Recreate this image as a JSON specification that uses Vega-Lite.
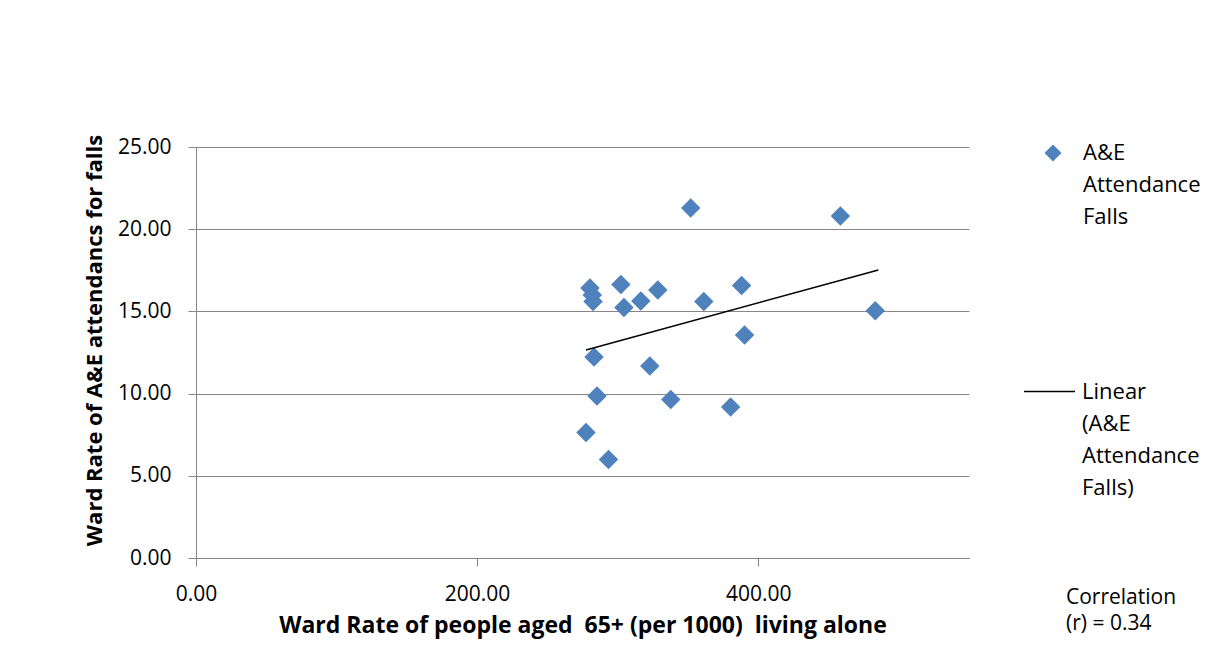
{
  "$schema": "https://vega.github.io/schema/vega-lite/v6.json",
  "width": 773,
  "height": 411,
  "autosize": {"type": "none"},
  "padding": {"left": 196, "top": 147, "right": 239, "bottom": 113},
  "background": "white",
  "config": {
    "view": {"stroke": null},
    "font": "Open Sans",
    "style": {"guide-label": {"lineHeight": 32}}
  },
  "title": {
    "text": ["Correlation", "(r) = 0.34"],
    "orient": "bottom",
    "anchor": "start",
    "frame": "group",
    "align": "left",
    "font": "Open Sans",
    "fontSize": 21,
    "fontWeight": "normal",
    "color": "black",
    "lineHeight": 26,
    "dx": 870,
    "dy": -54
  },
  "datasets": {
    "points": [
      {"living_alone": 352.0, "falls": 21.29, "series": "A&E Attendance Falls"},
      {"living_alone": 458.5, "falls": 20.80, "series": "A&E Attendance Falls"},
      {"living_alone": 280.3, "falls": 16.42, "series": "A&E Attendance Falls"},
      {"living_alone": 282.0, "falls": 16.00, "series": "A&E Attendance Falls"},
      {"living_alone": 282.5, "falls": 15.60, "series": "A&E Attendance Falls"},
      {"living_alone": 302.3, "falls": 16.64, "series": "A&E Attendance Falls"},
      {"living_alone": 304.5, "falls": 15.24, "series": "A&E Attendance Falls"},
      {"living_alone": 316.5, "falls": 15.63, "series": "A&E Attendance Falls"},
      {"living_alone": 328.6, "falls": 16.30, "series": "A&E Attendance Falls"},
      {"living_alone": 361.3, "falls": 15.60, "series": "A&E Attendance Falls"},
      {"living_alone": 388.2, "falls": 16.58, "series": "A&E Attendance Falls"},
      {"living_alone": 390.3, "falls": 13.56, "series": "A&E Attendance Falls"},
      {"living_alone": 483.3, "falls": 15.04, "series": "A&E Attendance Falls"},
      {"living_alone": 283.2, "falls": 12.23, "series": "A&E Attendance Falls"},
      {"living_alone": 322.9, "falls": 11.68, "series": "A&E Attendance Falls"},
      {"living_alone": 285.3, "falls": 9.85, "series": "A&E Attendance Falls"},
      {"living_alone": 337.8, "falls": 9.64, "series": "A&E Attendance Falls"},
      {"living_alone": 380.4, "falls": 9.18, "series": "A&E Attendance Falls"},
      {"living_alone": 277.5, "falls": 7.63, "series": "A&E Attendance Falls"},
      {"living_alone": 293.5, "falls": 5.99, "series": "A&E Attendance Falls"}
    ],
    "trend": [
      {"living_alone": 277.5, "falls": 12.65, "series": "Linear (A&E Attendance Falls)"},
      {"living_alone": 485.5, "falls": 17.52, "series": "Linear (A&E Attendance Falls)"}
    ]
  },
  "layer": [
    {
      "data": {"name": "points"},
      "mark": {"type": "point", "filled": true, "color": "#4F81BD", "opacity": 1, "size": 380, "strokeWidth": 0},
      "encoding": {
        "x": {
          "field": "living_alone",
          "type": "quantitative",
          "scale": {"domain": [0, 550], "nice": false, "zero": true},
          "axis": {
            "values": [0, 200, 400],
            "format": ".2f",
            "grid": false,
            "domainColor": "#868686",
            "domainWidth": 1,
            "tickColor": "#868686",
            "tickSize": 8,
            "labelFont": "Open Sans",
            "labelFontSize": 21,
            "labelColor": "black",
            "labelPadding": 17,
            "labelFlush": false,
            "title": "Ward Rate of people aged \u00a065+ (per 1000) \u00a0living alone",
            "titleFont": "Open Sans",
            "titleFontSize": 23,
            "titleFontWeight": "bold",
            "titleColor": "black",
            "titlePadding": 10
          }
        },
        "y": {
          "field": "falls",
          "type": "quantitative",
          "scale": {"domain": [0, 25], "nice": false},
          "axis": {
            "values": [0, 5, 10, 15, 20, 25],
            "format": ".2f",
            "grid": true,
            "gridColor": "#868686",
            "gridWidth": 1,
            "domainColor": "#868686",
            "domainWidth": 1,
            "tickColor": "#868686",
            "tickSize": 8,
            "labelFont": "Open Sans",
            "labelFontSize": 21,
            "labelColor": "black",
            "labelPadding": 17,
            "title": "Ward Rate of A&E attendancs for falls",
            "titleFont": "Open Sans",
            "titleFontSize": 22,
            "titleFontWeight": "bold",
            "titleColor": "black",
            "titlePadding": 11,
            "titleY": 193
          }
        },
        "shape": {
          "field": "series",
          "type": "nominal",
          "scale": {"range": ["diamond"]},
          "legend": {
            "orient": "none",
            "legendX": 846,
            "legendY": -5,
            "title": null,
            "symbolSize": 289,
            "symbolFillColor": "#4F81BD",
            "symbolStrokeWidth": 0,
            "labelFont": "Open Sans",
            "labelFontSize": 22,
            "labelColor": "black",
            "labelOffset": 19,
            "labelLimit": 0,
            "labelExpr": "split(datum.label, ' ')"
          }
        }
      }
    },
    {
      "data": {"name": "trend"},
      "mark": {"type": "line", "strokeWidth": 1.5},
      "encoding": {
        "x": {"field": "living_alone", "type": "quantitative"},
        "y": {"field": "falls", "type": "quantitative"},
        "stroke": {
          "field": "series",
          "type": "nominal",
          "scale": {"range": ["black"]},
          "legend": {
            "orient": "none",
            "legendX": 827,
            "legendY": 218,
            "title": null,
            "symbolType": "stroke",
            "symbolSize": 2601,
            "symbolStrokeWidth": 1.5,
            "symbolStrokeColor": "black",
            "labelFont": "Open Sans",
            "labelFontSize": 22,
            "labelColor": "black",
            "labelOffset": 6,
            "labelLimit": 0,
            "labelExpr": "split(datum.label, ' ')"
          }
        }
      }
    }
  ]
}
